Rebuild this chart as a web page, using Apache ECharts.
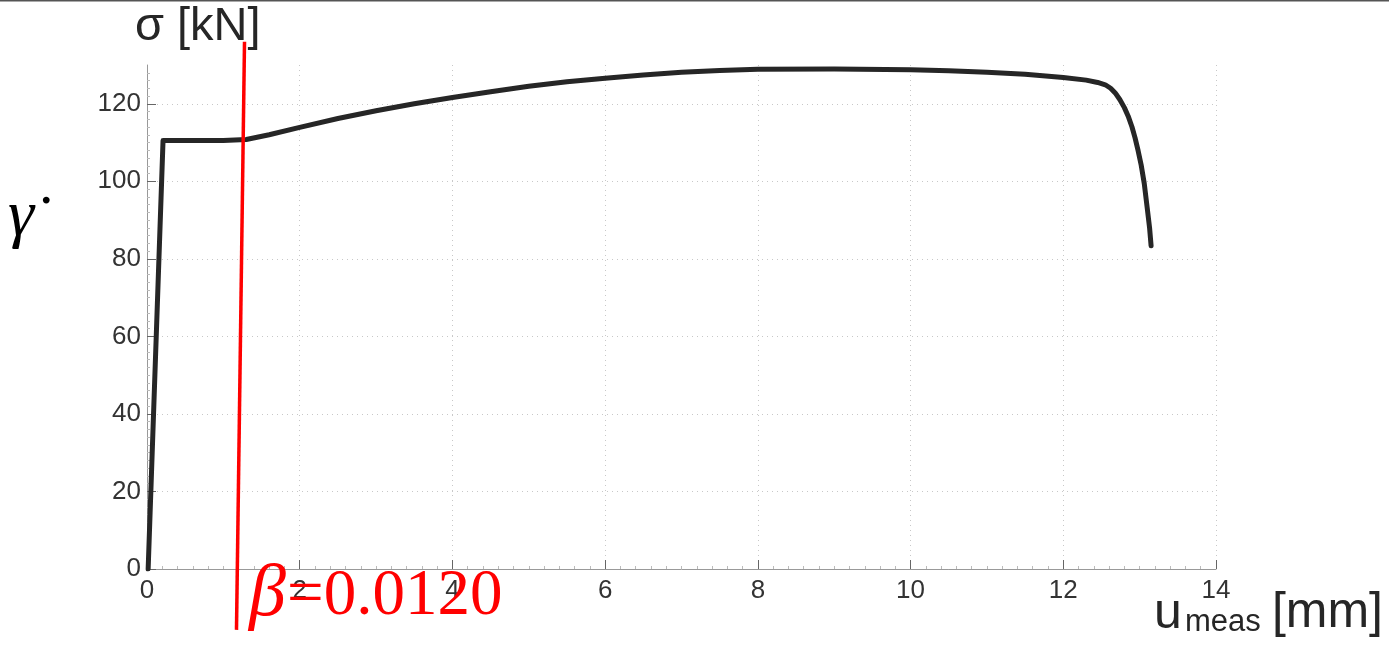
<!DOCTYPE html>
<html>
<head>
<meta charset="utf-8">
<script src="https://cdn.jsdelivr.net/npm/echarts@6/dist/echarts.min.js"></script>
<style>
html,body{margin:0;padding:0;background:#fff;}
#chart{width:1389px;height:645px;}
</style>
</head>
<body>
<div id="chart"></div>
<script>
// ---- data ----
const curveX = [0.015, 0.21, 0.6, 1.0, 1.3, 1.6, 2.0, 2.5, 3.0, 3.5, 4.0, 4.5, 5.0, 5.5, 6.0, 6.5, 7.0, 7.5, 8.0, 9.0, 10.0, 10.5, 11.0, 11.5, 12.0, 12.3, 12.45, 12.55, 12.62, 12.68, 12.74, 12.8, 12.85, 12.9, 12.94, 12.98, 13.02, 13.06, 13.1, 13.13, 13.15];
const curveY = [0, 110.5, 110.5, 110.5, 110.8, 112.0, 113.9, 116.2, 118.2, 120.0, 121.6, 123.1, 124.5, 125.7, 126.6, 127.4, 128.1, 128.6, 128.9, 129.0, 128.8, 128.5, 128.1, 127.6, 126.8, 126.1, 125.5, 124.9, 124.0, 122.8, 121.1, 119.0, 116.8, 114.0, 111.2, 107.9, 104.2, 99.5, 93.0, 88.0, 83.4];
const markerX = [1.172, 1.277];
const markerY = [-15.7, 136];
const xTicks = [0, 2, 4, 6, 8, 10, 12, 14];
const yTicks = [0, 20, 40, 60, 80, 100, 120];
const titleText = 'σ [kN]';
const betaLabel = '0.0120';

const curve = curveX.map((x, i) => [x, curveY[i]]);
const marker = markerX.map((x, i) => [x, markerY[i]]);

const chart = echarts.init(document.getElementById('chart'), null, {renderer: 'canvas'});
const labelStyle = {color: '#333', fontSize: 26, fontFamily: 'Liberation Sans, Arial, sans-serif'};
chart.setOption({
  animation: false,
  backgroundColor: '#fff',
  grid: {left: 147, right: 173, top: 65, bottom: 76, containLabel: false},
  xAxis: {
    type: 'value', min: 0, max: 14, interval: 2,
    axisLine: {show: true, onZero: false, lineStyle: {color: '#999', width: 1}},
    axisTick: {show: true, inside: true, length: 9, lineStyle: {color: '#666'}, customValues: xTicks},
    minorTick: {show: true, splitNumber: 10, length: 3, lineStyle: {color: '#bbb'}},
    axisLabel: Object.assign({margin: 9, customValues: xTicks}, labelStyle),
    splitLine: {show: true, lineStyle: {color: '#c8c8c8', type: [1, 4], width: 1}}
  },
  yAxis: {
    type: 'value', min: 0, max: 130, interval: 20,
    axisLine: {show: true, onZero: false, lineStyle: {color: '#999', width: 1}},
    axisTick: {show: true, inside: true, length: 9, lineStyle: {color: '#666'}, customValues: yTicks},
    minorTick: {show: true, splitNumber: 10, length: 3, lineStyle: {color: '#bbb'}},
    axisLabel: Object.assign({margin: 6, customValues: yTicks}, labelStyle),
    splitLine: {show: true, lineStyle: {color: '#c8c8c8', type: [1, 4], width: 1}}
  },
  series: [
    {
      type: 'line', data: curve, showSymbol: false, symbol: 'none',
      lineStyle: {color: '#262626', width: 5, join: 'round', cap: 'round'},
      z: 3
    },
    {
      type: 'line', data: marker, showSymbol: false, symbol: 'none', clip: false,
      lineStyle: {color: '#ff0000', width: 3.5},
      z: 4
    }
  ],
  graphic: [
    {type: 'line', shape: {x1: 0, y1: 0.5, x2: 1389, y2: 0.5}, style: {stroke: '#555', lineWidth: 2}, z: 100},
    {type: 'text', x: 135, y: 27, style: {text: titleText, font: '47px "Liberation Sans", Arial, sans-serif', fill: '#262626', verticalAlign: 'middle', align: 'left'}, z: 100},
    {type: 'text', x: 8, y: 218, style: {text: 'γ', font: 'italic 66px "Liberation Serif", "Times New Roman", serif', fill: '#000', verticalAlign: 'middle', align: 'left'}, z: 100},
    {type: 'text', x: 39, y: 188, style: {text: '.', font: '58px "Liberation Serif", "Times New Roman", serif', fill: '#000', verticalAlign: 'middle', align: 'left'}, z: 100},
    {type: 'text', x: 249, y: 596, style: {text: 'β', font: 'italic 74px "Liberation Serif", "Times New Roman", serif', fill: '#ff0000', verticalAlign: 'middle', align: 'left'}, z: 100},
    {type: 'text', x: 287, y: 597, style: {text: '=' + betaLabel, font: '65px "Liberation Serif", "Times New Roman", serif', fill: '#ff0000', verticalAlign: 'middle', align: 'left'}, z: 100},
    {type: 'text', x: 1154, y: 614, style: {text: 'u', font: '50px "Liberation Sans", Arial, sans-serif', fill: '#262626', verticalAlign: 'middle', align: 'left'}, z: 100},
    {type: 'text', x: 1185, y: 622, style: {text: 'meas', font: '31px "Liberation Sans", Arial, sans-serif', fill: '#262626', verticalAlign: 'middle', align: 'left'}, z: 100},
    {type: 'text', x: 1383, y: 613, style: {text: '[mm]', font: '50px "Liberation Sans", Arial, sans-serif', fill: '#262626', verticalAlign: 'middle', align: 'right'}, z: 100}
  ]
});
</script>
</body>
</html>
